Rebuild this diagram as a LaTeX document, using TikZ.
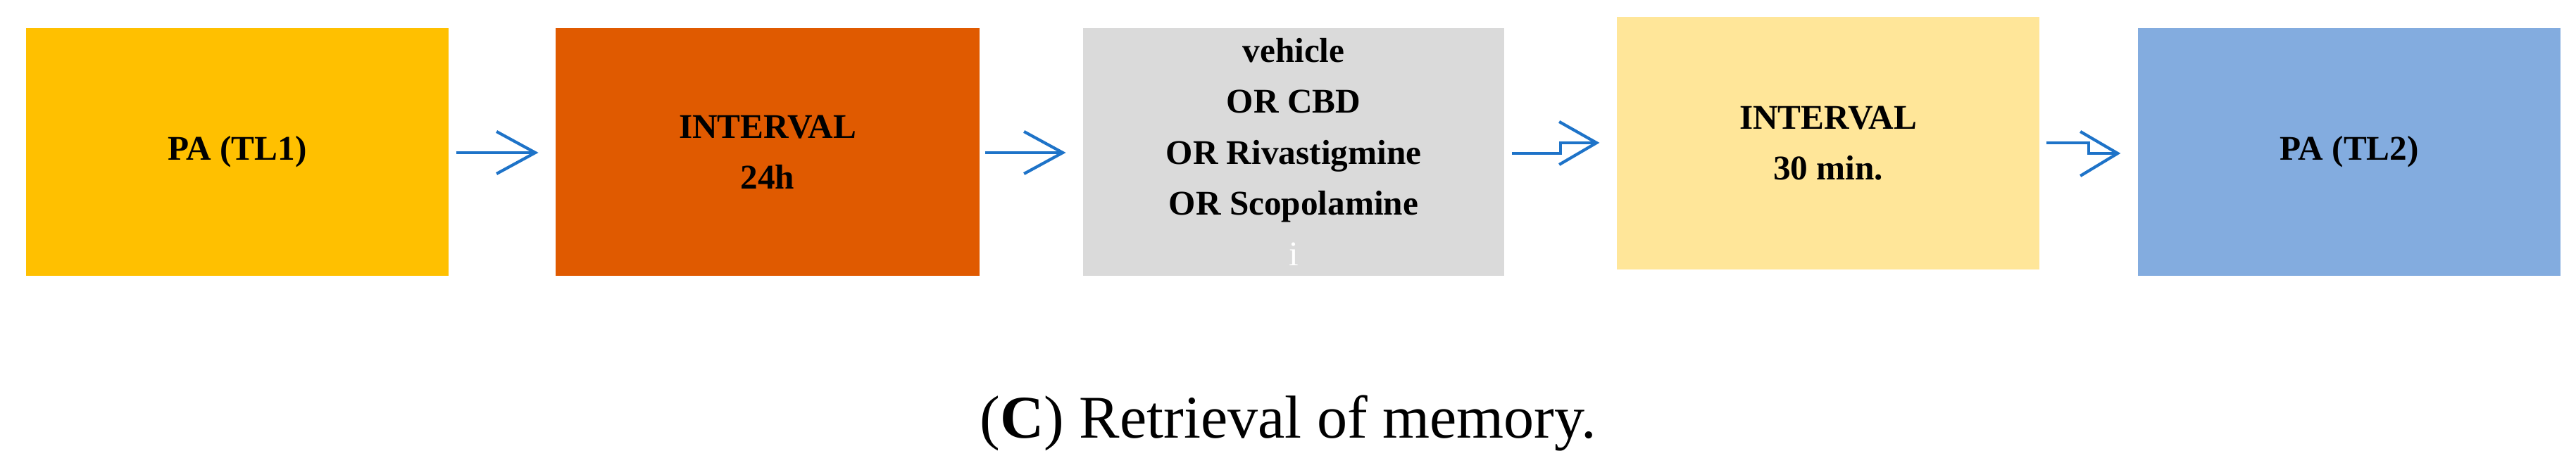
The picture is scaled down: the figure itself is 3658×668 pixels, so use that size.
\documentclass[tikz,border=0pt]{standalone}
\usepackage{fontspec}
\setmainfont{Liberation Serif}
\usetikzlibrary{calc}
\definecolor{cA}{HTML}{FFC000}
\definecolor{cB}{HTML}{E05A00}
\definecolor{cC}{HTML}{DADADA}
\definecolor{cD}{HTML}{FFE699}
\definecolor{cE}{HTML}{83ACDF}
\definecolor{arr}{RGB}{30,115,200}
\begin{document}
\begin{tikzpicture}[x=0.01cm,y=-0.01cm,
  box/.style={fill=#1,draw=none,minimum width=6cm,minimum height=3.52cm,inner sep=0pt,align=center,
    font=\fontsize{14}{20.5}\selectfont\bfseries},
  conn/.style={draw=arr,line width=1.2pt}]
\useasboundingbox (0,0) rectangle (3658,668);
\node[box=cA] (b1) at (337,216) {PA (TL1)};
\node[box=cB,minimum width=6.02cm] (b2) at (1090,216) {INTERVAL\\24h};
\node[box=cC,minimum width=5.98cm] (b3) at (1837,216) {vehicle\\OR CBD\\OR Rivastigmine\\OR Scopolamine\\{\color{white}\mdseries i}};
\node[box=cD,minimum height=3.59cm] (b4) at (2596,203.5) {INTERVAL\\30 min.};
\node[box=cE] (b5) at (3336,216) {PA (TL2)};
% arrow 1
\draw[conn] ($(b1.east)+(10,1)$) coordinate (a1s) -- ($(b2.west)+(-28,1)$) coordinate (a1t);
\draw[conn,line join=miter] ($(a1t)+(-55,-30)$) -- (a1t) -- ($(a1t)+(-55,30)$);
% arrow 2
\draw[conn] ($(b2.east)+(7,1)$) coordinate (a2s) -- ($(b3.west)+(-28,1)$) coordinate (a2t);
\draw[conn,line join=miter] ($(a2t)+(-55,-30)$) -- (a2t) -- ($(a2t)+(-55,30)$);
% arrow 3
\draw[conn] ($(b3.east)+(10,2)$) coordinate (a3s) -- ++(69,0) |- ($(b4.west)+(-28,-0.5)$) coordinate (a3t);
\draw[conn,line join=miter] ($(a3t)+(-53,-30)$) -- (a3t) -- ($(a3t)+(-53,31)$);
% arrow 4
\draw[conn] ($(b4.east)+(9,-0.5)$) coordinate (a4s) -- ++(60,0) |- ($(b5.west)+(-28,2)$) coordinate (a4t);
\draw[conn,line join=miter] ($(a4t)+(-53,-31)$) -- (a4t) -- ($(a4t)+(-53,32)$);
\node[anchor=base,font=\fontsize{24.5}{29}\selectfont,inner sep=0pt] (cap) at (1829,623) {(\textbf{C}) Retrieval of memory.};
\end{tikzpicture}
\end{document}
